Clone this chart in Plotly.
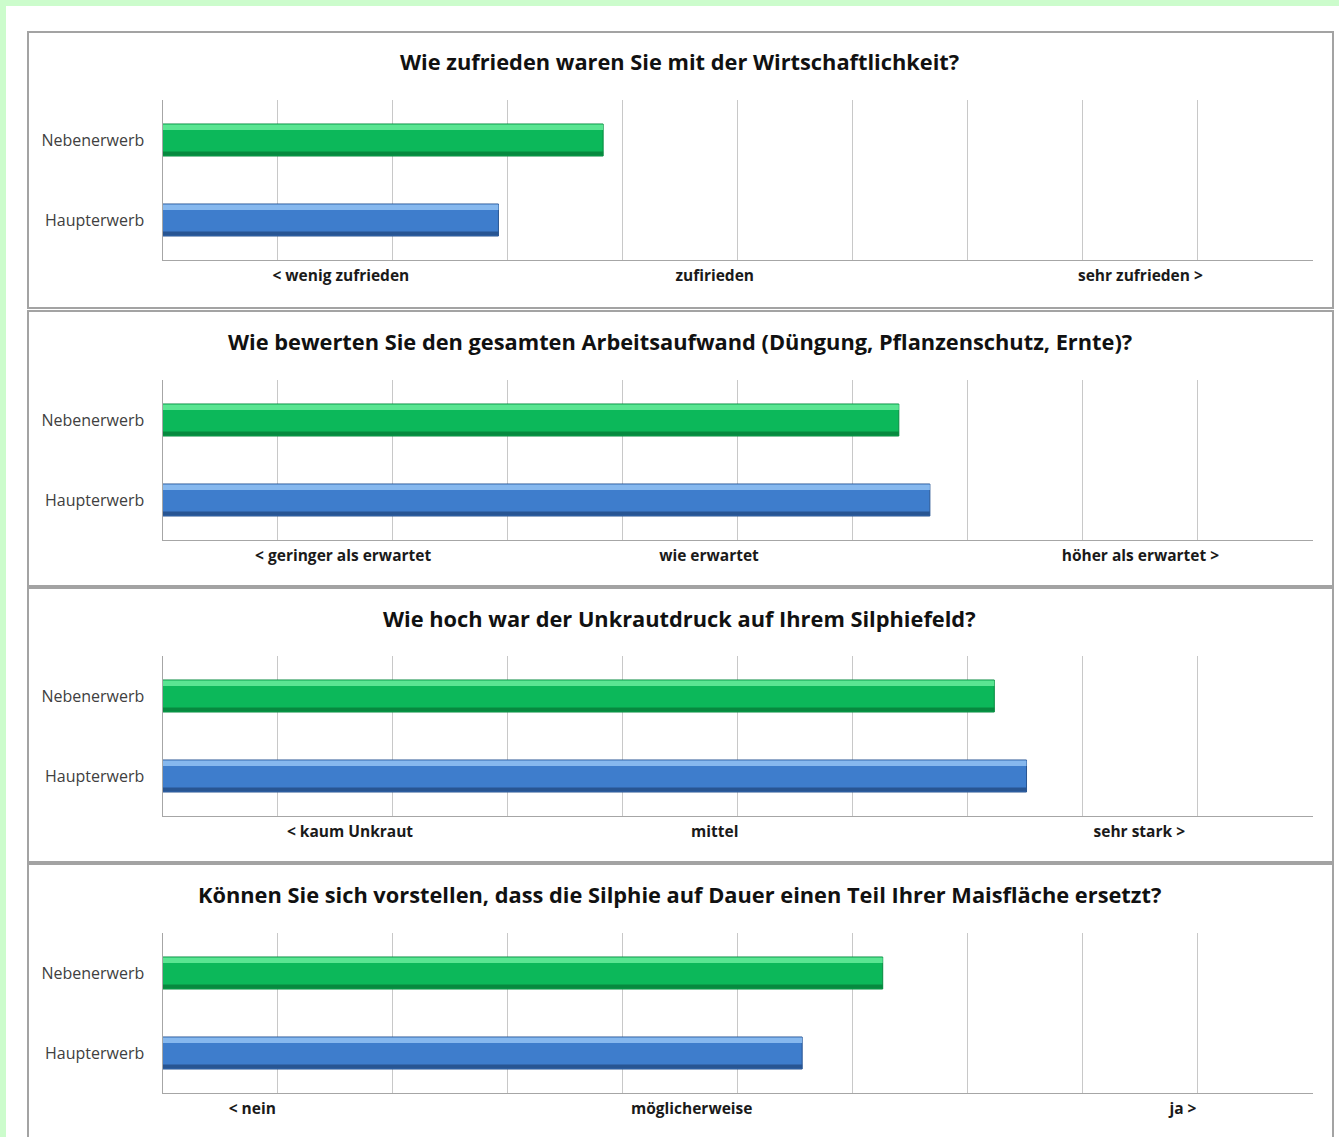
import plotly.graph_objects as go

# Survey results: mean ratings on a 0-10 scale
questions = [
    "Wie zufrieden waren Sie mit der Wirtschaftlichkeit?",
    "Wie bewerten Sie den gesamten Arbeitsaufwand (Düngung, Pflanzenschutz, Ernte)?",
    "Wie hoch war der Unkrautdruck auf Ihrem Silphiefeld?",
    "Können Sie sich vorstellen, dass die Silphie auf Dauer einen Teil Ihrer Maisfläche ersetzt?",
]
groups = ["Haupterwerb", "Nebenerwerb"]
nebenerwerb = [3.83, 6.40, 7.23, 6.26]
haupterwerb = [2.92, 6.67, 7.51, 5.56]

scale_labels = [
    ["< wenig zufrieden", "zufirieden", "sehr zufrieden >"],
    ["< geringer als erwartet", "wie erwartet", "höher als erwartet >"],
    ["< kaum Unkraut", "mittel", "sehr stark >"],
    ["< nein", "möglicherweise", "ja >"],
]
scale_label_pos = [
    [1.55, 4.80, 8.50],
    [1.57, 4.75, 8.50],
    [1.63, 4.80, 8.49],
    [0.78, 4.60, 8.87],
]

W, H = 1339, 1137
FONT = "Open Sans"


def py(px):
    return 1 - px / H


plot_x = [162.5 / W, 1313 / W]
plot_px = [(100, 260), (380, 540), (656, 816), (933, 1093)]
title_px = [62, 341, 618, 894]
panel_px = [(32, 308), (311, 586), (588, 862), (864, 1160)]

green = dict(main="#0cb85a", light="#5ae592", dark="#07893f")
blue = dict(main="#3e7dcc", light="#86b8ee", dark="#285592")
BW = 0.4

fig = go.Figure()
layout = dict(
    width=W, height=H,
    margin=dict(l=0, r=0, t=0, b=0),
    paper_bgcolor="white", plot_bgcolor="rgba(0,0,0,0)",
    showlegend=False, barmode="overlay",
    shapes=[], annotations=[],
)

for i in range(4):
    sfx = "" if i == 0 else str(i + 1)
    xa, ya = "x" + sfx, "y" + sfx
    vals = [haupterwerb[i], nebenerwerb[i]]
    for gi, (v, col) in enumerate(zip(vals, [blue, green])):
        # bar body with a simple bevel: light top band, dark bottom band
        fig.add_trace(go.Bar(x=[v], y=[gi], orientation="h", width=BW,
                             marker=dict(color=col["main"],
                                         line=dict(color=col["dark"], width=1)),
                             xaxis=xa, yaxis=ya, hoverinfo="skip"))
        fig.add_trace(go.Bar(x=[v], y=[gi], orientation="h", width=0.07,
                             offset=BW / 2 - 0.075,
                             marker=dict(color=col["light"], line=dict(width=0)),
                             xaxis=xa, yaxis=ya, hoverinfo="skip"))
        fig.add_trace(go.Bar(x=[v], y=[gi], orientation="h", width=0.05,
                             offset=-BW / 2 + 0.005,
                             marker=dict(color=col["dark"], line=dict(width=0)),
                             xaxis=xa, yaxis=ya, hoverinfo="skip"))

    top, bot = plot_px[i]
    layout["xaxis" + sfx] = dict(
        domain=plot_x, anchor=ya, range=[0, 10],
        showgrid=False, zeroline=False,
        showline=True, linecolor="#a6a6a6", linewidth=1,
        tickmode="array", tickvals=scale_label_pos[i], ticktext=scale_labels[i],
        ticks="", ticklabelstandoff=1,
        tickfont=dict(family=FONT, size=15.5, color="#1a1a1a", weight="bold"),
        minor=dict(tick0=0, dtick=1, showgrid=True, gridcolor="#c8c8c8",
                   gridwidth=1, ticks=""),
        fixedrange=True,
    )
    layout["yaxis" + sfx] = dict(
        domain=[py(bot), py(top)], anchor=xa, range=[-0.5, 1.5],
        showgrid=False, zeroline=False,
        showline=True, linecolor="#a6a6a6", linewidth=1,
        tickmode="array", tickvals=[0, 1], ticktext=groups,
        ticks="", ticklabelstandoff=14,
        tickfont=dict(family=FONT, size=16, color="#404040"),
        fixedrange=True,
    )
    layout["annotations"].append(dict(
        text=questions[i], xref="paper", yref="paper",
        x=680 / W, y=py(title_px[i]), xanchor="center", yanchor="middle",
        showarrow=False,
        font=dict(family=FONT, size=21.8, color="#111111", weight="bold"),
    ))
    p0, p1 = panel_px[i]
    layout["shapes"].append(dict(
        type="rect", xref="paper", yref="paper",
        x0=28 / W, x1=1333 / W, y0=py(p1), y1=py(p0),
        line=dict(color="#a3a3a3", width=2), fillcolor="rgba(0,0,0,0)",
        layer="below",
    ))

# light green page edge along the top and left
layout["shapes"] += [
    dict(type="rect", xref="paper", yref="paper", x0=0, x1=1, y0=py(6), y1=1,
         line=dict(width=0), fillcolor="#ccfccc", layer="below"),
    dict(type="rect", xref="paper", yref="paper", x0=0, x1=6 / W, y0=0, y1=1,
         line=dict(width=0), fillcolor="#ccfccc", layer="below"),
]

fig.update_layout(**layout)
fig.write_html("out.html")
